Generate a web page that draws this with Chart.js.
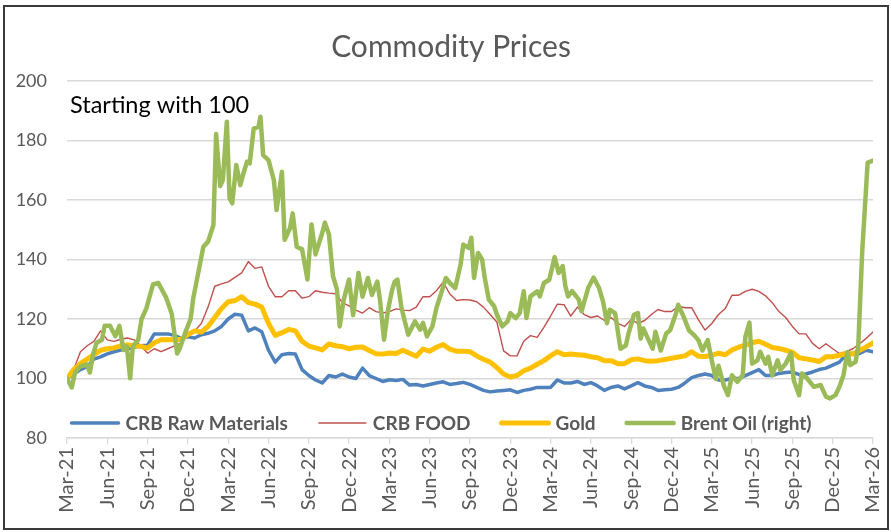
<!DOCTYPE html>
<html><head><meta charset="utf-8">
<script src="https://cdn.jsdelivr.net/npm/chart.js@4.4.1/dist/chart.umd.min.js"></script>
<style>
html,body{margin:0;padding:0;background:#fff;}
#wrap{position:relative;width:891px;height:532px;}
#frame{position:absolute;left:3px;top:5px;width:886px;height:525px;border:2px solid #3a3a3a;box-sizing:border-box;pointer-events:none;}
canvas{display:block;}
</style></head><body>
<div id="wrap"><canvas id="c" width="891" height="532"></canvas><div id="frame"></div></div>
<script>
// Quarterly tick labels (every 3 months from Mar-21)
const quarterLabels = ['Mar-21','Jun-21','Sep-21','Dec-21','Mar-22','Jun-22','Sep-22','Dec-22',
  'Mar-23','Jun-23','Sep-23','Dec-23','Mar-24','Jun-24','Sep-24','Dec-24',
  'Mar-25','Jun-25','Sep-25','Dec-25','Mar-26'];

// Semi-monthly observation points, in months since Mar-21
const months = Array.from({length:121}, (_, i) => i / 2);

const crbRaw = [
  100,101.5,103,104,106.5,107.3,108.3,109,109.6,110,110.5,111,
  111.2,115,115,115,114.5,113.5,114,113.6,114.7,115.2,116,117.5,
  120,121.6,121.3,116,117,115.7,109.5,105.5,108,108.4,108.2,103,
  101,99.5,98.5,101,100.5,101.5,100.5,100,103.5,101,100,99,
  99.6,99.3,99.7,97.8,98,97.5,98,98.5,98.9,98,98.3,98.7,
  98,97,96,95.5,95.8,96,96.2,95.3,96,96.4,97,97,
  97,99.5,98.5,98.5,99,98,98.6,97.5,96,97,97.5,96.5,
  97.5,98.6,97.5,97,96,96.2,96.4,97,98.5,100.3,101,101.5,
  101,99.5,99.5,100,100,101,102,103,101,101,101.7,102,
  102.2,101.3,101.5,102.2,103,103.5,104.5,105.5,108,108.5,108.4,109.5,
  109];

const crbFood = [
  100,103,109,111,112.5,116,113,112.5,113.2,113.6,113,111,
  108.5,110,109,110,111,112,114.5,116,118.5,124,131,131.8,
  132.5,134,135.5,139.3,137,137.5,131,127.5,127.5,129.5,129.5,127,
  127.5,129.5,129,128.7,128.5,125.5,124.4,123,122,123.8,122.5,122,
  122.5,123.4,123,122.8,124,127.5,127.5,129.5,132.4,128.4,126.2,126.5,
  126.4,125.8,124,121.5,119,109.3,107.6,107.6,112.5,114.4,113.8,117.2,
  121,125,124.8,121,124,121.5,120.5,121,119.5,120.5,118.5,117.5,
  119.8,118.5,119.5,121.5,123.2,122.5,122.5,124.3,123.8,123.8,119.8,116.3,
  118.5,121.5,123.5,128,128,129.3,130,129.3,127.8,125.5,122.5,120.5,
  117.5,115,115,111.8,110,111.7,110,108.4,109,110,111.7,113.5,
  115.6];

const gold = [
  100,103,105,106.5,108,109.5,110,110.3,111,111.3,111,110.8,
  110.2,112,113,113,113,113.2,114.8,116,115.6,117.5,120.5,123.5,
  125.8,126.2,127.5,125.5,125,124,118.5,114.5,115.4,116.5,116,112.5,
  110.9,110.3,109.6,111.6,111,110.7,110,110.5,110.6,109.4,108.3,108.2,
  108.6,108.4,109.5,108.5,107.5,109.9,109.2,110.5,111.4,109.9,109.2,109.2,
  109,107.6,106.5,105.5,103.7,101.5,100.5,101,102.6,103.5,104.8,106,
  107.6,109,108,108.2,108,107.8,107.3,107,106,106,105,105,
  106.3,106.6,106,105.8,106,106.4,106.8,107.2,107.6,109,107.5,107.4,
  107.8,108.5,108,109.6,110.5,111.2,112,112.5,111.5,110.4,110.1,109.5,
  108.8,107,106.6,106.2,105.7,107.3,107.3,107.8,108.4,108.2,109.5,110.6,
  112];

// Brent oil, read at its own (irregular) points, months since Mar-21
const oilMonths = [0,0.35,0.6,0.97,1.47,1.7,1.96,2.2,2.6,2.8,3.2,3.6,3.9,4.2,4.45,4.7,4.9,5.3,5.55,5.9,
  6.4,6.8,7.4,7.8,8.2,8.4,8.8,9.2,9.4,9.7,10,10.15,10.5,10.9,11.1,11.4,11.6,11.9,12.1,12.3,
  12.6,12.9,13.1,13.4,13.6,13.9,14.25,14.4,14.6,15,15.4,15.6,16,16.2,16.6,16.8,17.1,17.5,17.9,18.2,
  18.5,19,19.2,19.5,19.8,20.1,20.3,20.6,21,21.3,21.7,22,22.4,22.7,23.1,23.3,23.6,23.9,24.2,24.4,
  24.6,24.9,25.4,25.9,26.3,26.5,26.8,27.2,27.5,27.9,28.2,28.5,28.9,29.3,29.5,29.9,30.1,30.3,30.6,30.9,
  31.1,31.4,31.8,32,32.4,32.8,33,33.4,33.7,34,34.2,34.5,35,35.2,35.5,35.9,36.3,36.6,36.9,37.1,
  37.3,37.6,38.1,38.3,38.8,39.2,39.6,39.9,40.2,40.4,40.8,41.2,41.6,41.8,42.2,42.5,42.7,42.9,43.3,43.6,
  43.8,44.2,44.6,44.9,45.3,45.5,45.9,46.3,46.7,47,47.3,47.7,48,48.3,48.5,48.9,49.2,49.5,49.9,50.3,
  50.5,50.8,51,51.4,51.6,52,52.2,52.5,52.9,53.1,53.5,53.9,54.1,54.5,54.7,55.1,55.6,56.1,56.5,56.8,
  57.2,57.5,57.8,58.1,58.3,58.7,58.9,59.2,59.6,60];
const brentOil = [100,97,102,104,104.7,102,108.4,112,113,117.7,117.7,114.2,117.7,109.6,110.8,100.1,110.8,113,120,123.5,
  131.6,132.1,127,121.7,108.4,110.2,115.4,120,127,133.9,140.8,144.3,146,151.6,182.2,164.7,166.7,186.3,160.6,158.9,
  171.8,165,168.4,172.9,172.3,184,184.6,188,175.1,173.4,166.7,156.6,169.5,146.6,150.5,155.5,144.3,143.4,133.3,151.8,
  141.7,149,152.4,148.4,134.4,129.9,117.5,126.5,133.3,121.3,135.5,127.5,133.8,128.1,132.6,126.4,113,123.1,129.8,132.6,
  133.2,123.7,114.7,119.2,116.4,118.7,114.2,117.5,123.7,129.3,133.8,132.1,130.4,138.3,145,143.9,147.3,133.8,142.2,140,
  133.8,126.5,124.3,121.5,117.5,119.2,122,120.3,122,129.3,120.3,127.6,129.3,127.6,132.1,133.2,140.8,135.5,137.8,131,
  127.6,129.4,126.5,122.6,130.5,133.9,130.5,125.9,118.6,123.1,122,110,111.1,115.1,121.4,122,113.4,116.8,112.9,110,
  115.7,109.4,115.1,116.2,121.4,124.8,120.8,116.2,114.5,112.9,109.4,112.9,106,99.8,104.3,97.5,94.4,101.1,98.9,101.1,
  114,118.8,105,106.1,109,105,107.3,101.1,106.1,102.8,105,108.6,99.4,94.4,101.7,100,97.2,97.8,93.9,93.3,
  94.4,97.2,101.1,108.9,104.5,105.6,110.6,143,172.6,173.2];

const seriesNames = ['CRB Raw Materials','CRB FOOD','Gold','Brent Oil (right)'];
const chartTitle = 'Commodity Prices';
const annotationText = 'Starting with 100';

const FONT = 'Lato';
const GREY = '#595959';

function mk(label, xs, ys, color, width, order){
  return {label, data: xs.map((x,i)=>({x, y: ys[i]})), borderColor: color, backgroundColor: color,
    borderWidth: width, pointRadius: 0, tension: 0, order, borderJoinStyle:'round', borderCapStyle:'round', fill:false};
}

const decorPlugin = {
  id: 'xlDecor',
  afterDraw(chart){
    const ctx = chart.ctx, ca = chart.chartArea;
    ctx.save();
    // title
    ctx.font = '30px ' + FONT;
    ctx.fillStyle = GREY;
    ctx.textAlign = 'center';
    ctx.textBaseline = 'middle';
    ctx.fillText(chartTitle, 451, 47);
    // legend
    ctx.textAlign = 'left';
    ctx.font = 'bold 19px ' + FONT;
    const sample = 47, gapText = 7, gapItem = 31;
    const items = chart.data.datasets.map(d => ({label:d.label, color:d.borderColor, width:Math.max(d.borderWidth,1.5), w: ctx.measureText(d.label).width}));
    const total = items.reduce((s,it)=>s + sample + gapText + it.w, 0) + gapItem*(items.length-1);
    let x = (ca.left + ca.right)/2 - 28.5 - total/2;
    const y = ca.bottom - 15;
    items.forEach(it => {
      ctx.strokeStyle = it.color; ctx.lineWidth = it.width; ctx.lineCap = 'round';
      ctx.beginPath(); ctx.moveTo(x, y); ctx.lineTo(x + sample, y); ctx.stroke();
      x += sample + gapText;
      ctx.fillStyle = GREY; ctx.fillText(it.label, x, y + 1);
      x += it.w + gapItem;
    });
    // annotation
    ctx.font = '23.5px ' + FONT;
    ctx.fillStyle = '#000';
    ctx.textBaseline = 'alphabetic';
    ctx.fillText(annotationText, ca.left + 3, ca.top + 32);
    ctx.restore();
  }
};

new Chart(document.getElementById('c'), {
  type: 'line',
  data: { datasets: [
    mk(seriesNames[0], months, crbRaw, '#4F81BD', 3.5, 3),
    mk(seriesNames[1], months, crbFood, '#C0504D', 1.4, 2),
    mk(seriesNames[2], months, gold, '#FFC000', 5, 1),
    mk(seriesNames[3], oilMonths, brentOil, '#9BBB59', 4.5, 0)
  ]},
  options: {
    responsive: false, animation: false,
    layout: { padding: { left: 0, right: 18, top: 81, bottom: 14 } },
    plugins: {
      legend: { display: false }, tooltip: { enabled: false }, title: { display: false }
    },
    scales: {
      x: { type: 'linear', min: 0, max: 60,
        ticks: { stepSize: 3, autoSkip: false, maxRotation: 90, minRotation: 90, color: GREY,
          font: { family: FONT, size: 20 }, padding: 3,
          callback: (v) => quarterLabels[Math.round(v/3)] },
        grid: { drawOnChartArea: false, drawTicks: true, tickLength: 6, color: '#d9d9d9', lineWidth: 1.3 },
        border: { display: true, color: '#d9d9d9', width: 1.3 },
        afterFit: (s) => { s.height = 80; s.paddingLeft = 0; s.paddingRight = 0; } },
      y: { min: 80, max: 200,
        ticks: { stepSize: 20, color: GREY, font: { family: FONT, size: 18 }, padding: 20 },
        grid: { color: '#d9d9d9', lineWidth: 1.5, drawTicks: false },
        border: { display: false },
        afterFit: (s) => { s.width = 67; s.paddingTop = 0; s.paddingBottom = 0; } }
    }
  },
  plugins: [decorPlugin]
});
</script>
</body></html>
